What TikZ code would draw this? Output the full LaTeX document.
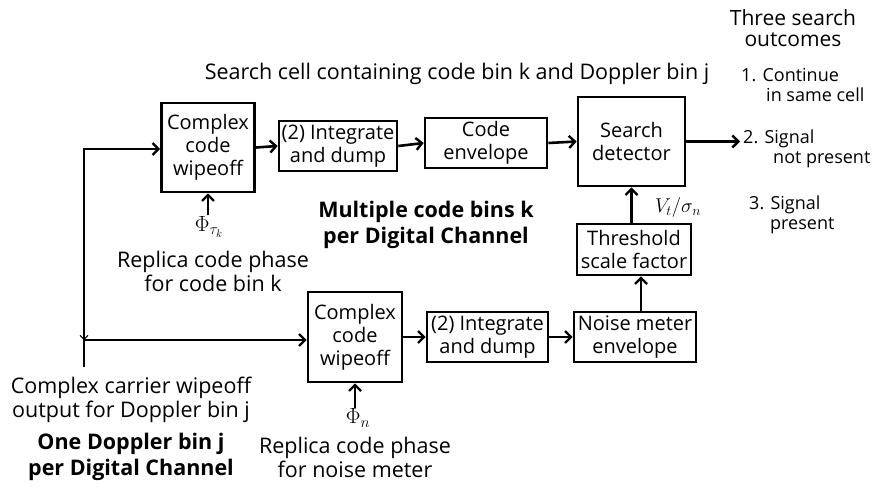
\documentclass[tikz,border=0pt]{standalone}
\usepackage{fix-cm}
\usepackage{fontspec}
\setmainfont{Open Sans}
\usetikzlibrary{arrows.meta}
\begin{document}
\begin{tikzpicture}[x=1pt,y=-1pt,
  box/.style={draw,line width=2.6pt,align=center,inner sep=0pt,font=\fontsize{20}{23}\selectfont},
  txt/.style={align=center,inner sep=0pt,font=\fontsize{21.5}{24}\selectfont},
  btxt/.style={align=center,inner sep=0pt,font=\fontsize{21.5}{26}\selectfont\bfseries},
  otxt/.style={align=left,anchor=west,inner sep=0pt,font=\fontsize{18}{20}\selectfont},
  mth/.style={inner sep=1pt,font=\fontsize{22}{24}\selectfont},
  arr/.style={line width=2.6pt,-{Straight Barb[length=6pt,width=12pt,line width=2.4pt]}},
  wire/.style={line width=2.6pt}]
\useasboundingbox (0,0) rectangle (878,489);

% boxes
\node[box,minimum width=93pt,minimum height=89pt] (cw1) at (208,147.5) {Complex\\code\\wipeoff};
\node[box,minimum width=118pt,minimum height=50pt] (id1) at (338,146) {(2) Integrate\\and dump};
\node[box,minimum width=122pt,minimum height=50pt] (ce) at (486,143) {Code\\envelope};
\node[box,minimum width=107pt,minimum height=89pt] (sd) at (631.5,141.5) {Search\\detector};
\node[box,minimum width=114pt,minimum height=51pt] (th) at (634,249.5) {Threshold\\scale factor};
\node[box,minimum width=122pt,minimum height=50pt] (nm) at (635,337) {Noise meter\\envelope};
\node[box,minimum width=121pt,minimum height=50pt] (id2) at (487.5,337) {(2) Integrate\\and dump};
\node[box,minimum width=94pt,minimum height=90pt] (cw2) at (355,337) {Complex\\code\\wipeoff};

% input wiring
\coordinate (src) at (84,367);
\coordinate (tp) at (84,149);
\coordinate (jn) at (84,340);
\draw[wire] (src) -- ([yshift=1.3pt]tp);
\draw[arr] ([xshift=-1.3pt]tp) -- (tp -| cw1.west);
\draw[arr] (jn) -- (jn -| cw2.west);
\draw[line width=0.9pt,-{Straight Barb[length=4pt,width=8pt,line width=0.9pt]}] (84,324) -- (jn);

% chain
\draw[arr] (cw1.east) -- (id1.west);
\draw[arr] (id1.east) -- (ce.west);
\draw[arr] (ce.east) -- (sd.west);
\coordinate (out) at (740,141.5);
\draw[arr] (sd.east) -- (out);
\draw[arr] (th.north -| sd.south) -- (sd.south);
\draw[arr] ([xshift=6pt]nm.north) -- ([xshift=6pt]nm.north |- th.south);
\draw[arr] (cw2.east) -- (id2.west);
\draw[arr] (id2.east) -- (nm.west);

% replica code phase inputs
\node[mth] (p1) at (209,227) {$\Phi_{\tau_k}$};
\draw[arr] (p1.north -| cw1.south) -- (cw1.south);
\node[txt] (rk) at (213,271) {Replica code phase\\for code bin k};
\node[mth] (p2) at (358,418) {$\Phi_n$};
\draw[arr] (p2.north -| cw2.south) -- (cw2.south);
\node[txt] (rn) at (355,457) {Replica code phase\\for noise meter};

% labels
\node[mth,font=\fontsize{20}{22}\selectfont,inner sep=0pt] (vt) at (678,208) {$V_t/\sigma_n$};
\node[txt] (cc) at (131,400) {Complex carrier wipeoff\\output for Doppler bin j};
\node[btxt] (od) at (131,457) {One Doppler bin j\\per Digital Channel};
\node[btxt] (mc) at (426,225) {Multiple code bins k\\per Digital Channel};
\node[txt] (sc) at (457,74) {Search cell containing code bin k and Doppler bin j};
\node[txt,font=\fontsize{21}{21}\selectfont] (ts) at (793,28) {Three search\\outcomes};
\node[otxt] (o1) at (741,85) {1. Continue\\\hspace*{25pt}in same cell};
\node[otxt] (o2) at (743,149) {2. Signal\\\hspace*{30pt}not present};
\node[otxt] (o3) at (749,215) {3. Signal\\\hspace*{21pt}present};
\end{tikzpicture}
\end{document}
